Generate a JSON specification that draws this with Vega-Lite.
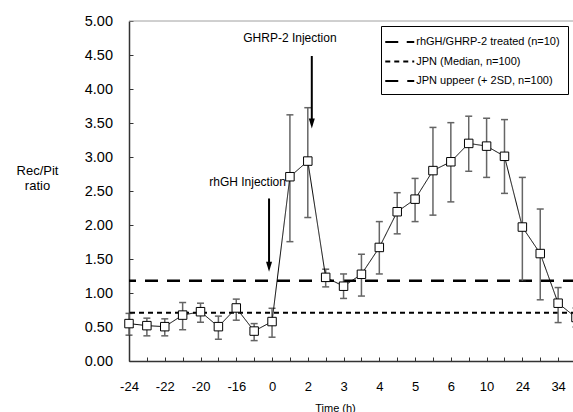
{
  "$schema": "https://vega.github.io/schema/vega-lite/v6.json",
  "width": 447,
  "height": 340,
  "autosize": {"type": "none"},
  "padding": {"left": 129, "top": 21, "right": 0, "bottom": 51},
  "background": "white",
  "config": {
    "view": {"stroke": null},
    "font": "Liberation Sans",
    "axis": {
      "grid": false,
      "labelFont": "Liberation Sans",
      "titleFont": "Liberation Sans",
      "labelColor": "#000",
      "titleColor": "#000",
      "titleFontWeight": "normal",
      "domainColor": "#333",
      "tickColor": "#333",
      "domainWidth": 1.5,
      "tickWidth": 1,
      "labelOverlap": false
    },
    "axisY": {"labelOverlap": false},
    "axisQuantitative": {"labelOverlap": false}
  },
  "datasets": {
    "series": [
      {"time": "-24", "ratio": 0.55, "lo": 0.38, "hi": 0.70, "series": "rhGH/GHRP-2 treated (n=10)"},
      {"time": "-23", "ratio": 0.52, "lo": 0.37, "hi": 0.63, "series": "rhGH/GHRP-2 treated (n=10)"},
      {"time": "-22", "ratio": 0.505, "lo": 0.37, "hi": 0.62, "series": "rhGH/GHRP-2 treated (n=10)"},
      {"time": "-21", "ratio": 0.675, "lo": 0.46, "hi": 0.86, "series": "rhGH/GHRP-2 treated (n=10)"},
      {"time": "-20", "ratio": 0.725, "lo": 0.57, "hi": 0.85, "series": "rhGH/GHRP-2 treated (n=10)"},
      {"time": "-18", "ratio": 0.505, "lo": 0.32, "hi": 0.66, "series": "rhGH/GHRP-2 treated (n=10)"},
      {"time": "-16", "ratio": 0.78, "lo": 0.60, "hi": 0.91, "series": "rhGH/GHRP-2 treated (n=10)"},
      {"time": "-8", "ratio": 0.44, "lo": 0.30, "hi": 0.55, "series": "rhGH/GHRP-2 treated (n=10)"},
      {"time": "0", "ratio": 0.58, "lo": 0.35, "hi": 0.775, "series": "rhGH/GHRP-2 treated (n=10)"},
      {"time": "1", "ratio": 2.71, "lo": 1.755, "hi": 3.62, "series": "rhGH/GHRP-2 treated (n=10)"},
      {"time": "2", "ratio": 2.94, "lo": 2.11, "hi": 3.725, "series": "rhGH/GHRP-2 treated (n=10)"},
      {"time": "2.5", "ratio": 1.23, "lo": 1.09, "hi": 1.35, "series": "rhGH/GHRP-2 treated (n=10)"},
      {"time": "3", "ratio": 1.10, "lo": 0.92, "hi": 1.28, "series": "rhGH/GHRP-2 treated (n=10)"},
      {"time": "3.5", "ratio": 1.275, "lo": 0.955, "hi": 1.57, "series": "rhGH/GHRP-2 treated (n=10)"},
      {"time": "4", "ratio": 1.67, "lo": 1.28, "hi": 2.05, "series": "rhGH/GHRP-2 treated (n=10)"},
      {"time": "4.5", "ratio": 2.195, "lo": 1.87, "hi": 2.475, "series": "rhGH/GHRP-2 treated (n=10)"},
      {"time": "5", "ratio": 2.38, "lo": 2.05, "hi": 2.685, "series": "rhGH/GHRP-2 treated (n=10)"},
      {"time": "5.5", "ratio": 2.80, "lo": 2.145, "hi": 3.435, "series": "rhGH/GHRP-2 treated (n=10)"},
      {"time": "6", "ratio": 2.93, "lo": 2.34, "hi": 3.505, "series": "rhGH/GHRP-2 treated (n=10)"},
      {"time": "8", "ratio": 3.20, "lo": 2.79, "hi": 3.60, "series": "rhGH/GHRP-2 treated (n=10)"},
      {"time": "10", "ratio": 3.16, "lo": 2.70, "hi": 3.57, "series": "rhGH/GHRP-2 treated (n=10)"},
      {"time": "12", "ratio": 3.01, "lo": 2.465, "hi": 3.55, "series": "rhGH/GHRP-2 treated (n=10)"},
      {"time": "24", "ratio": 1.97, "lo": 1.18, "hi": 2.70, "series": "rhGH/GHRP-2 treated (n=10)"},
      {"time": "30", "ratio": 1.58, "lo": 0.90, "hi": 2.235, "series": "rhGH/GHRP-2 treated (n=10)"},
      {"time": "34", "ratio": 0.85, "lo": 0.565, "hi": 1.08, "series": "rhGH/GHRP-2 treated (n=10)"},
      {"time": "48", "ratio": 0.64, "lo": 0.50, "hi": 0.78, "series": "rhGH/GHRP-2 treated (n=10)"}
    ]
  },
  "layer": [
    {
      "data": {"values": [{"level": 5}]},
      "mark": {"type": "rule", "color": "#a0a0a0", "strokeWidth": 1},
      "encoding": {
        "y": {
          "field": "level",
          "type": "quantitative",
          "title": ["Rec/Pit", "ratio"],
          "scale": {"domain": [0, 5], "nice": false, "zero": true},
          "axis": {
            "title": ["Rec/Pit", "ratio"],
            "titleFontSize": 13,
            "titleAngle": 0,
            "titleAlign": "center",
            "titleBaseline": "alphabetic",
            "titleX": -92,
            "titleY": 153,
            "titleLineHeight": 15,
            "values": [0, 0.5, 1, 1.5, 2, 2.5, 3, 3.5, 4, 4.5, 5],
            "tickCount": 11,
            "format": ".2f",
            "labelFontSize": 14.5,
            "labelPadding": 20.5,
            "tickSize": -4,
            "labelBaseline": "middle",
            "labelOverlap": false
          }
        }
      }
    },
    {
      "data": {"values": [{"level": 0.71, "series": "JPN (Median, n=100)"}]},
      "mark": {"type": "rule", "color": "#000", "strokeWidth": 2},
      "encoding": {
        "y": {"field": "level", "type": "quantitative", "title": ["Rec/Pit", "ratio"]},
        "strokeDash": {
          "field": "series",
          "type": "nominal",
          "scale": {
            "domain": ["rhGH/GHRP-2 treated (n=10)", "JPN (Median, n=100)", "JPN uppeer (+ 2SD, n=100)"],
            "range": [[1, 0], [5, 4], [13, 9]]
          },
          "legend": {
            "title": null,
            "orient": "none",
            "legendX": 252,
            "legendY": 5,
            "fillColor": "#fff",
            "strokeColor": "#000",
            "padding": 7.5,
            "labelFont": "Liberation Sans",
            "labelFontSize": 11,
            "labelColor": "#000",
            "symbolType": "M-2,0H2",
            "symbolSize": 210,
            "symbolStrokeWidth": 2,
            "symbolStrokeColor": "#000",
            "symbolFillColor": "#fff",
            "symbolOffset": 2.75,
            "labelOffset": 8,
            "rowPadding": 5.5
          }
        }
      }
    },
    {
      "data": {"values": [{"level": 1.18, "series": "JPN uppeer (+ 2SD, n=100)"}]},
      "mark": {"type": "rule", "color": "#000", "strokeWidth": 2.5},
      "encoding": {
        "y": {"field": "level", "type": "quantitative", "title": ["Rec/Pit", "ratio"]},
        "strokeDash": {"field": "series", "type": "nominal"}
      }
    },
    {
      "data": {"name": "series"},
      "mark": {
        "type": "errorbar",
        "ticks": {"size": 7, "thickness": 1.5, "color": "#222"},
        "rule": {"color": "#666", "strokeWidth": 1.5}
      },
      "encoding": {
        "x": {
          "field": "time",
          "type": "ordinal",
          "title": "Time (h)",
          "scale": {"type": "point", "padding": 0, "domain": ["-24","-23","-22","-21","-20","-18","-16","-8","0","1","2","2.5","3","3.5","4","4.5","5","5.5","6","8","10","12","24","30","34","48"]},
          "axis": {
            "title": "Time (h)",
            "titleFontSize": 11,
            "titleX": 206,
            "titleY": 50,
            "titleAlign": "center",
            "titleBaseline": "alphabetic",
            "labelAngle": 0,
            "labelFontSize": 13,
            "labelBaseline": "alphabetic",
            "labelPadding": 33,
            "tickSize": -4,
            "labelExpr": "indexof(['-24','-22','-20','-16','0','2','3','4','5','6','10','24','34'], datum.value) >= 0 ? datum.label : ''"
          }
        },
        "y": {"field": "lo", "type": "quantitative", "title": ["Rec/Pit", "ratio"]},
        "y2": {"field": "hi"}
      }
    },
    {
      "data": {"name": "series"},
      "mark": {"type": "line", "color": "#000", "strokeWidth": 1},
      "encoding": {
        "x": {"field": "time", "type": "ordinal", "title": "Time (h)", "scale": {"type": "point", "padding": 0, "domain": ["-24","-23","-22","-21","-20","-18","-16","-8","0","1","2","2.5","3","3.5","4","4.5","5","5.5","6","8","10","12","24","30","34","48"]}},
        "y": {"field": "ratio", "type": "quantitative", "title": ["Rec/Pit", "ratio"]},
        "strokeDash": {"field": "series", "type": "nominal"}
      }
    },
    {
      "data": {"name": "series"},
      "mark": {"type": "point", "size": 72, "fill": "#fff", "stroke": "#000", "strokeWidth": 1, "opacity": 1, "filled": true},
      "encoding": {
        "x": {"field": "time", "type": "ordinal", "title": "Time (h)", "scale": {"type": "point", "padding": 0, "domain": ["-24","-23","-22","-21","-20","-18","-16","-8","0","1","2","2.5","3","3.5","4","4.5","5","5.5","6","8","10","12","24","30","34","48"]}},
        "y": {"field": "ratio", "type": "quantitative", "title": ["Rec/Pit", "ratio"]},
        "shape": {
          "field": "series",
          "type": "nominal",
          "scale": {"domain": ["rhGH/GHRP-2 treated (n=10)"], "range": ["square"]},
          "legend": {
            "title": null,
            "orient": "none",
            "legendX": 268,
            "legendY": 13.5,
            "padding": 0,
            "fillColor": null,
            "strokeColor": null,
            "zindex": 2,
            "labelExpr": "''",
            "labelFontSize": 11,
            "symbolSize": 72,
            "symbolFillColor": "#fff",
            "symbolStrokeColor": "#000",
            "symbolStrokeWidth": 1,
            "symbolOpacity": 1,
            "symbolOffset": 0,
            "labelOffset": 0
          }
        }
      }
    },
    {
      "data": {"values": [{"time": "1", "level": 4.75, "note": "GHRP-2 Injection"}]},
      "mark": {"type": "text", "align": "center", "baseline": "middle", "fontSize": 12, "font": "Liberation Sans", "color": "#000"},
      "encoding": {
        "x": {"field": "time", "type": "ordinal", "title": "Time (h)", "scale": {"type": "point", "padding": 0, "domain": ["-24","-23","-22","-21","-20","-18","-16","-8","0","1","2","2.5","3","3.5","4","4.5","5","5.5","6","8","10","12","24","30","34","48"]}},
        "y": {"field": "level", "type": "quantitative", "title": ["Rec/Pit", "ratio"]},
        "text": {"field": "note"}
      }
    },
    {
      "data": {"values": [{"time": "1", "level": 2.63, "note": "rhGH Injection"}]},
      "mark": {"type": "text", "align": "right", "baseline": "middle", "fontSize": 12, "font": "Liberation Sans", "color": "#000", "xOffset": -4},
      "encoding": {
        "x": {"field": "time", "type": "ordinal", "title": "Time (h)", "scale": {"type": "point", "padding": 0, "domain": ["-24","-23","-22","-21","-20","-18","-16","-8","0","1","2","2.5","3","3.5","4","4.5","5","5.5","6","8","10","12","24","30","34","48"]}},
        "y": {"field": "level", "type": "quantitative", "title": ["Rec/Pit", "ratio"]},
        "text": {"field": "note"}
      }
    },
    {
      "data": {"values": [{"time": "2", "top": 4.485, "tip": 3.42}]},
      "mark": {"type": "rule", "color": "#000", "strokeWidth": 2, "xOffset": 4, "y2Offset": -8},
      "encoding": {
        "x": {"field": "time", "type": "ordinal", "title": "Time (h)", "scale": {"type": "point", "padding": 0, "domain": ["-24","-23","-22","-21","-20","-18","-16","-8","0","1","2","2.5","3","3.5","4","4.5","5","5.5","6","8","10","12","24","30","34","48"]}},
        "y": {"field": "top", "type": "quantitative", "title": ["Rec/Pit", "ratio"]},
        "y2": {"field": "tip"}
      }
    },
    {
      "data": {"values": [{"time": "2", "tip": 3.42}]},
      "mark": {"type": "point", "shape": "M-0.6,-1H0.6L0,1Z", "size": 100, "filled": true, "color": "#000", "opacity": 1, "xOffset": 4, "yOffset": -5},
      "encoding": {
        "x": {"field": "time", "type": "ordinal", "title": "Time (h)", "scale": {"type": "point", "padding": 0, "domain": ["-24","-23","-22","-21","-20","-18","-16","-8","0","1","2","2.5","3","3.5","4","4.5","5","5.5","6","8","10","12","24","30","34","48"]}},
        "y": {"field": "tip", "type": "quantitative", "title": ["Rec/Pit", "ratio"]}
      }
    },
    {
      "data": {"values": [{"time": "0", "top": 2.39, "tip": 1.313}]},
      "mark": {"type": "rule", "color": "#000", "strokeWidth": 2, "xOffset": -3, "y2Offset": -8},
      "encoding": {
        "x": {"field": "time", "type": "ordinal", "title": "Time (h)", "scale": {"type": "point", "padding": 0, "domain": ["-24","-23","-22","-21","-20","-18","-16","-8","0","1","2","2.5","3","3.5","4","4.5","5","5.5","6","8","10","12","24","30","34","48"]}},
        "y": {"field": "top", "type": "quantitative", "title": ["Rec/Pit", "ratio"]},
        "y2": {"field": "tip"}
      }
    },
    {
      "data": {"values": [{"time": "0", "tip": 1.313}]},
      "mark": {"type": "point", "shape": "M-0.6,-1H0.6L0,1Z", "size": 100, "filled": true, "color": "#000", "opacity": 1, "xOffset": -3, "yOffset": -5},
      "encoding": {
        "x": {"field": "time", "type": "ordinal", "title": "Time (h)", "scale": {"type": "point", "padding": 0, "domain": ["-24","-23","-22","-21","-20","-18","-16","-8","0","1","2","2.5","3","3.5","4","4.5","5","5.5","6","8","10","12","24","30","34","48"]}},
        "y": {"field": "tip", "type": "quantitative", "title": ["Rec/Pit", "ratio"]}
      }
    }
  ]
}
